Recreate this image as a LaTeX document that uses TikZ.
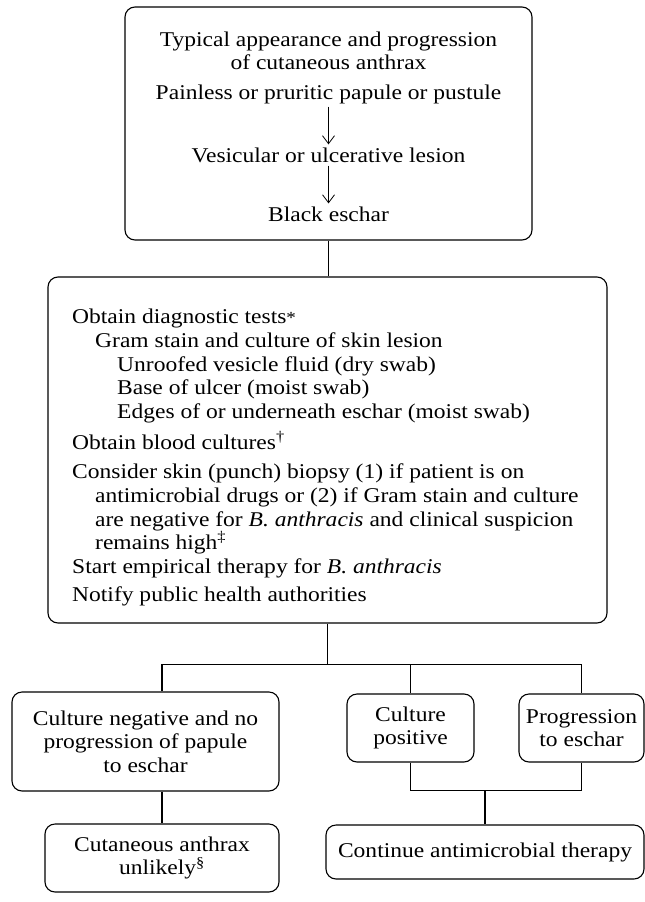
\documentclass[tikz,border=0pt]{standalone}
\usepackage{fontspec}
\setmainfont{Liberation Serif}[FakeStretch=1.12]
\usetikzlibrary{arrows.meta,positioning}

\tikzset{
  box/.style={draw,line width=1.1pt,rounded corners=10pt,inner sep=0pt},
  txt/.style={inner sep=0pt,align=center,font=\fontsize{21}{23.5}\selectfont},
  item/.style={inner sep=0pt,anchor=base west,font=\fontsize{21}{23.5}\selectfont},
  link/.style={line width=1.1pt},
  stage/.style={-{Straight Barb[length=8pt,width=12pt]},line width=.8pt,shorten <=3pt,shorten >=3pt},
}

\begin{document}
\begin{tikzpicture}[x=1pt,y=-1pt]
  \useasboundingbox (0,0) rectangle (645,902);

  % course of the lesion
  \node[box,minimum width=407pt,minimum height=233pt] (course) at (328.5,123.5) {};
  \node[txt] (title) at (328.5,51) {Typical appearance and progression\\of cutaneous anthrax};
  \node[txt] (papule) at (328.5,94) {Painless or pruritic papule or pustule};
  \node[txt] (vesicle) at (328.5,155) {Vesicular or ulcerative lesion};
  \node[txt] (eschar) at (328.5,214) {Black eschar};
  \draw[stage] (papule) -- (vesicle);
  \draw[stage] (vesicle) -- (eschar);

  % work-up
  \node[box,minimum width=559pt,minimum height=346pt] (tests) at (327.5,450) {};
  \node[item] (diag) at (72,323) {Obtain diagnostic tests{\fontsize{17}{17}\selectfont*}};
  \node[item] (gram) at (95,347) {Gram stain and culture of skin lesion};
  \node[item] (fluid) at (117,371) {Unroofed vesicle fluid (dry swab)};
  \node[item] (ulcer) at (117,394) {Base of ulcer (moist swab)};
  \node[item] (edges) at (117,418) {Edges of or underneath eschar (moist swab)};
  \node[item] (blood) at (72,449) {Obtain blood cultures\textsuperscript{†}};
  \node[item] (biopsy) at (72,478) {Consider skin (punch) biopsy (1) if patient is on};
  \node[item] (biopsyb) at (95,502) {antimicrobial drugs or (2) if Gram stain and culture};
  \node[item] (biopsyc) at (95,526) {are negative for \textit{B. anthracis} and clinical suspicion};
  \node[item] (biopsyd) at (95,549) {remains high\textsuperscript{‡}};
  \node[item] (therapy) at (72,573) {Start empirical therapy for \textit{B. anthracis}};
  \node[item] (notify) at (72,601) {Notify public health authorities};

  % outcomes
  \node[box,txt,minimum width=267pt,minimum height=99pt] (neg) at (145.5,741.5) {Culture negative and no\\progression of papule\\to eschar};
  \node[box,txt,minimum width=127pt,minimum height=68pt] (pos) at (410.5,728) {Culture\\positive};
  \node[box,txt,minimum width=125pt,minimum height=68pt] (prog) at (581.5,728) {Progression\\to eschar};
  \node[box,txt,minimum width=234pt,minimum height=68pt] (unlikely) at (162,858) {Cutaneous anthrax\\unlikely\textsuperscript{§}};
  \node[box,txt,minimum width=318pt,minimum height=54pt] (cont) at (485,852) {Continue antimicrobial therapy};

  \draw[link] (course.south) -- (course.south |- tests.north);
  \draw[link] (tests.south) -- ++(0,41) coordinate (fork);
  \draw[link] (fork) -| (unlikely.north |- neg.north);
  \draw[link] (fork) -| (prog.north);
  \draw[link] (pos.north) -- (pos.north |- fork);
  \draw[link] (unlikely.north |- neg.south) -- (unlikely.north);
  \draw[link] (pos.south) -- ++(0,28) coordinate (join) -| (prog.south);
  \draw[link] (join -| cont.north) -- (cont.north);
\end{tikzpicture}
\end{document}
